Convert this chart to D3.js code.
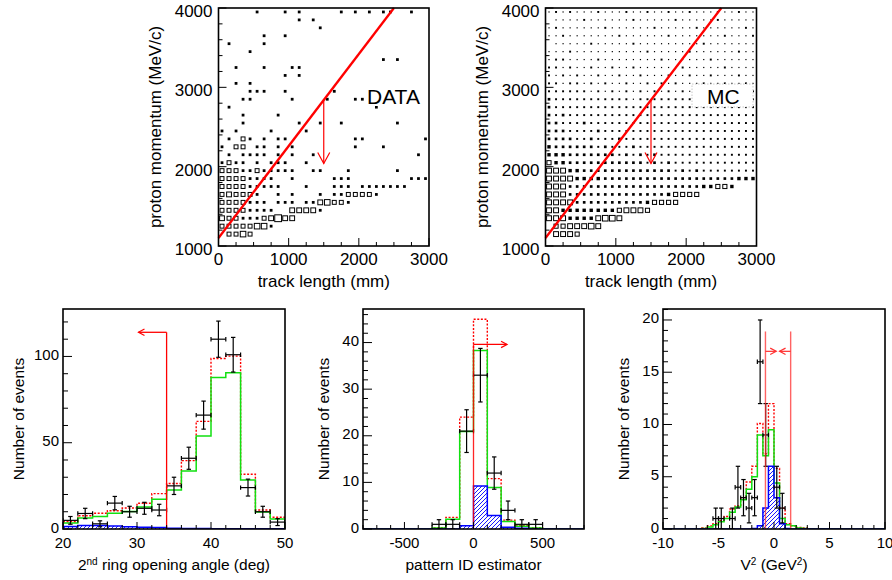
<!DOCTYPE html>
<html><head><meta charset="utf-8">
<script src="https://cdn.jsdelivr.net/npm/d3@7"></script>
<style>
body{margin:0;background:#fff}
text{font-family:"Liberation Sans",Arial,Helvetica,sans-serif;fill:#000}
</style>
</head><body><script>
// ---------------- DATA ----------------
// Top panels: 2D histograms, 30 x 30 cells of 100 mm x 100 MeV/c
const trackRange = [0, 3000];
const momRange = [1000, 4000];
const cellSize = 100;
const topXTicks = [0, 1000, 2000, 3000];
const topYTicks = [1000, 2000, 3000, 4000];
// rows from top (3900-4000 MeV/c) to bottom (1000-1100 MeV/c), one digit per 100 mm column
const dataRows = [
 "00000 10001 01000 00101 01011 00100",
 "00000 00000 01010 00000 00000 00000",
 "00000 00000 00001 00000 00000 00000",
 "00000 01001 00000 00000 00000 00000",
 "01000 01000 00000 00000 00000 00000",
 "00001 00000 00000 00000 00000 00000",
 "00000 00000 00000 00000 00010 10000",
 "00100 01000 11000 00000 00000 00000",
 "00000 00001 01000 00000 00000 00000",
 "00101 00000 00000 00000 00000 00000",
 "00001 11001 00000 01000 00000 00000",
 "00011 00000 10000 10001 10000 00000",
 "01000 00000 00000 00000 00100 00000",
 "00010 00010 00000 00000 00000 00000",
 "00010 00000 01001 00100 00000 10000",
 "10100 00100 00100 00000 00000 00000",
 "01021 01011 00000 00001 10000 00001",
 "10220 11010 10000 00001 00010 00000",
 "01011 11010 10010 00000 00000 00010",
 "12110 10111 00100 00000 00000 00000",
 "22211 21111 10011 00010 00000 10000",
 "22221 11100 10000 01110 00000 00111",
 "22221 11110 00100 01110 11111 11000",
 "23222 10010 10001 01122 22100 00000",
 "22221 11011 10113 42210 00000 00000",
 "22221 11100 33331 00000 00000 00000",
 "32211 12363 30000 00000 00000 00000",
 "22222 44100 00000 00000 00000 00000",
 "02242 00000 00000 00000 00000 00000",
 "00000 00000 00000 00000 00000 00000"
];
const mcRows = [
 "12121 11211 12112 11211 21112 11211",
 "01111 21111 11211 11121 11112 11111",
 "12111 11121 11111 21111 12111 11121",
 "11211 11111 21111 11211 11111 21112",
 "01111 12111 11211 11111 11211 11111",
 "11121 11111 11112 11111 21111 11211",
 "12211 11211 11111 12111 11121 11111",
 "22121 12112 11211 11112 11111 21111",
 "21212 11211 21121 11211 21121 11211",
 "22122 12121 12112 12121 11211 21121",
 "22222 21212 12121 21212 12121 21212",
 "32222 22222 22122 22222 21222 22122",
 "32222 22222 22222 22222 22222 22222",
 "32322 22222 22222 22222 22222 22222",
 "33222 32222 22222 22222 22222 22222",
 "33322 22322 22222 22222 22222 22222",
 "33332 23222 32222 22222 22222 22222",
 "43333 33232 22322 22222 22222 22222",
 "44433 33333 23232 32222 22222 22222",
 "54433 33333 33332 32322 22222 22222",
 "66644 33333 33333 33323 23222 22222",
 "66664 44433 33333 33333 33333 33444",
 "66633 33333 33333 33333 33445 54000",
 "66633 33333 33333 33455 55000 00000",
 "66663 33333 33334 55550 00000 00000",
 "66444 44444 56665 00000 00000 00000",
 "66644 44677 60000 00000 00000 00000",
 "05566 67600 00000 00000 00000 00000",
 "06665 00000 00000 00000 00000 00000",
 "00000 00000 00000 00000 00000 00000"
];
const cutLineTrack = [0, 2500];
const cutLineMom = [1100, 4000];
const cutArrowTrack = 1500;
const cutArrowMom = [2840, 2040];

// Bottom-left: 2nd ring opening angle (deg), bins of 2 deg from 20
const angStart = 20, angWidth = 2;
const angData  = [5, 9, 3, 15, 10, 12, 11, 25, 41, 66, 110, 101, 24, 10, 4];
const angMCtot = [4.2, 7.7, 9.1, 10.6, 12.2, 14.9, 20.5, 26.4, 39.6, 62.4, 98.8, 100.2, 31.7, 11, 6.8];
const angMCsig = [3.5, 6.4, 7.3, 9.1, 10.2, 12.7, 17.2, 22.6, 33.6, 53.9, 87.8, 90.5, 28.4, 9.8, 5.8];
const angMCbkg = [1.5, 2, 2, 1.8, 1.3, 1, 0.9, 0.4, 0.3, 0.3, 0.2, 0.2, 0.2, 0.2, 0.2];
const angCut = {x: 34, top: 114, arrowTo: 30.2};

// Bottom-middle: pattern ID estimator, bins of 100 from -800
const pidStart = -800, pidWidth = 100;
const pidData  = [0, 0, 0, 0, 0, 1, 1, 21, 33, 12, 4, 1, 1, 0, 0, 0];
const pidMCtot = [0, 0, 0, 0, 0, 0.3, 2.5, 24, 45, 10.8, 1.9, 0.7, 0.3, 0, 0, 0];
const pidMCsig = [0, 0, 0, 0, 0, 0.2, 2.1, 20.9, 38.3, 8.9, 1.6, 0.6, 0.2, 0, 0, 0];
const pidMCbkg = [0, 0, 0, 0, 0, 0, 0, 0.7, 9.2, 2.9, 0.4, 0.15, 0, 0, 0, 0];
const pidCut = {x: 0, top: 39.6, arrowTo: 243};

// Bottom-right: V^2 (GeV^2), bins of 0.5 from -10
const v2Start = -10, v2Width = 0.5;
const v2Data  = [0,0,0,0,0,0,0,0,0,1, 1,0,1,4,3,2,3,16,9,0, 4,2,0,0,0,0,0,0,0,0, 0,0,0,0,0,0,0,0,0,0];
const v2MCtot = [0,0,0,0,0,0,0,0.1,0.3,0.5, 0.8,1.2,1.9,2.2,3.0,4.5,6.0,10.1,7.2,12, 5.8,2.0,0.5,0.3,0.15,0.1,0,0,0,0, 0,0,0,0,0,0,0,0,0,0];
const v2MCsig = [0,0,0,0,0,0,0,0.05,0.2,0.4, 0.7,1.0,1.6,2.1,2.8,3.8,5.0,9.0,7.0,9.5, 4.4,1.0,0.4,0.3,0.1,0.05,0,0,0,0, 0,0,0,0,0,0,0,0,0,0];
const v2MCbkg = [0,0,0,0,0,0,0,0,0,0, 0,0,0,0,0,0,0.05,0.3,2.0,6.0, 3.0,0.5,0.05,0,0,0,0,0,0,0, 0,0,0,0,0,0,0,0,0,0];
const v2Cuts = {lo: -0.77, hi: 1.5, top: 18.9, arrowY: 17, loTo: 0.2, hiTo: 0.5};

// ---------------- DRAWING ----------------
const svg = d3.select("body").append("svg").attr("width", 892).attr("height", 580);
const defs = svg.append("defs");
const pat = defs.append("pattern").attr("id", "hatch").attr("patternUnits", "userSpaceOnUse")
  .attr("width", 4).attr("height", 4);
pat.append("path").attr("d", "M-1,1 l2,-2 M0,4 l4,-4 M3,5 l2,-2")
  .attr("stroke", "#0000ff").attr("stroke-width", 0.9);

const RED = "#ff0000", GREEN = "#11e011", BLUE = "#0000ff";

function line(g, x1, y1, x2, y2, stroke, w) {
  return g.append("line").attr("x1", x1).attr("y1", y1).attr("x2", x2).attr("y2", y2)
    .attr("stroke", stroke).attr("stroke-width", w);
}

function isMult(v, step) { const r = v / step; return Math.abs(r - Math.round(r)) < 1e-6; }

function drawAxes(g, x, y, o) {
  const [xa, xb] = x.range(), [yb, ya] = y.range();
  const xd = x.domain(), yd = y.domain();
  d3.range(Math.ceil(xd[0] / o.xMinor - 1e-9) * o.xMinor, xd[1] + 1e-9, o.xMinor).forEach(v => {
    const len = isMult(v, o.xMajor) ? o.tMajX : o.tMinX;
    line(g, x(v), yb, x(v), yb - len, "#000", 1);
  });
  d3.range(Math.ceil(yd[0] / o.yMinor - 1e-9) * o.yMinor, yd[1] + 1e-9, o.yMinor).forEach(v => {
    const len = isMult(v, o.yMajor) ? o.tMajY : o.tMinY;
    line(g, xa, y(v), xa + len, y(v), "#000", 1);
  });
  g.append("rect").attr("x", xa).attr("y", ya).attr("width", xb - xa).attr("height", yb - ya)
    .attr("fill", "none").attr("stroke", "#000").attr("stroke-width", 1.6);
  g.selectAll("text.xl").data(o.xLabels).join("text").attr("class", "xl")
    .attr("x", d => x(d)).attr("y", o.xLabY).attr("text-anchor", "middle")
    .attr("font-size", o.fs).text(d => d);
  g.selectAll("text.yl").data(o.yLabels).join("text").attr("class", "yl")
    .attr("x", xa - o.yLabGap).attr("y", d => y(d) + o.yLabDy).attr("text-anchor", "end")
    .attr("font-size", o.fs).text(d => d);
}

function rotTitle(g, cx, cy, txt, fs) {
  g.append("text").attr("transform", `translate(${cx},${cy}) rotate(-90)`)
    .attr("text-anchor", "middle").attr("dy", "0.35em").attr("font-size", fs).text(txt);
}

// ---- Top panels ----
function topPanel(x0, x1, rows, sizeScale, solidBelow, label, box) {
  const x = d3.scaleLinear().domain(trackRange).range([x0, x1]);
  const y = d3.scaleLinear().domain(momRange).range([246, 8]);
  const g = svg.append("g");
  const cells = [];
  rows.forEach((r, ri) => {
    const s = r.replace(/ /g, "");
    const j = rows.length - 1 - ri;
    for (let i = 0; i < s.length; i++) {
      const c = +s[i];
      if (c > 0) cells.push({t: trackRange[0] + (i + 0.5) * cellSize, p: momRange[0] + (j + 0.5) * cellSize, c});
    }
  });
  g.selectAll("rect.cell").data(cells).join("rect").attr("class", "cell")
    .attr("x", d => x(d.t) - sizeScale(d.c) / 2).attr("y", d => y(d.p) - sizeScale(d.c) / 2)
    .attr("width", d => sizeScale(d.c)).attr("height", d => sizeScale(d.c))
    .attr("fill", d => sizeScale(d.c) < solidBelow ? "#000" : "#fff")
    .attr("stroke", d => sizeScale(d.c) < solidBelow ? "none" : "#000")
    .attr("stroke-width", 1);
  // label box
  g.append("rect").attr("x", box.x).attr("y", box.y).attr("width", box.w).attr("height", box.h)
    .attr("fill", "#fff").attr("stroke", box.border ? "#bbb" : "none")
    .attr("stroke-dasharray", "1.5,1.5").attr("stroke-width", 0.8);
  g.append("text").attr("x", box.tx).attr("y", 103.5).attr("font-size", 21).text(label);
  // cut line
  g.append("path").attr("d", d3.line().x(d => x(d[0])).y(d => y(d[1]))(cutLineTrack.map((t, k) => [t, cutLineMom[k]])))
    .attr("stroke", RED).attr("stroke-width", 2.3).attr("fill", "none");
  const ax = x(cutArrowTrack), ay0 = y(cutArrowMom[0]), ay1 = y(cutArrowMom[1]);
  line(g, ax, ay0, ax, ay1, RED, 1.2);
  g.append("path").attr("d", `M${ax - 6},${ay1 - 11}L${ax},${ay1}L${ax + 6},${ay1 - 11}`)
    .attr("fill", "none").attr("stroke", RED).attr("stroke-width", 1.2);
  drawAxes(g, x, y, {xMinor: 250, xMajor: 1000, yMinor: 200, yMajor: 1000,
    tMajX: 8, tMinX: 4, tMajY: 8, tMinY: 4, xLabels: topXTicks, yLabels: topYTicks,
    xLabY: 265, yLabGap: 6, yLabDy: 9, fs: 17});
  g.append("text").attr("x", (x0 + x1) / 2).attr("y", 287).attr("text-anchor", "middle")
    .attr("font-size", 17).text("track length (mm)");
  rotTitle(g, x0 - 63.5, 127, "proton momentum (MeV/c)", 17);
}
topPanel(218.5, 429, dataRows, d3.scaleSqrt().domain([0, 6]).range([0, 6.8]), 3.3, "DATA",
  {x: 366, y: 83, w: 62, h: 23, tx: 367, border: false});
topPanel(545.5, 756.5, mcRows, d3.scaleLinear().domain([1, 7]).range([1.2, 5.6]), 3.6, "MC",
  {x: 692, y: 84, w: 61, h: 23, tx: 707, border: true});

// ---- Bottom panels ----
function histPanel(c) {
  const x = d3.scaleLinear().domain(c.xDomain).range([c.x0, c.x1]);
  const y = d3.scaleLinear().domain(c.yDomain).range([529, 309]);
  const g = svg.append("g");
  const clipId = "clip" + c.id;
  defs.append("clipPath").attr("id", clipId).append("rect")
    .attr("x", c.x0).attr("y", 309).attr("width", c.x1 - c.x0).attr("height", 220);
  const gh = g.append("g").attr("clip-path", `url(#${clipId})`);
  const step = vals => {
    const pts = [[c.start, 0]];
    vals.forEach((v, k) => { const a = c.start + k * c.width; pts.push([a, v], [a + c.width, v]); });
    pts.push([c.start + vals.length * c.width, 0]);
    return d3.line().x(d => x(d[0])).y(d => y(d[1]))(pts);
  };
  gh.append("path").attr("d", step(c.tot)).attr("fill", "none").attr("stroke", RED)
    .attr("stroke-width", 1.4).attr("stroke-dasharray", "2,1.6");
  gh.append("path").attr("d", step(c.sig)).attr("fill", "none").attr("stroke", GREEN).attr("stroke-width", 1.5);
  gh.append("path").attr("d", step(c.bkg)).attr("fill", "url(#hatch)").attr("stroke", BLUE).attr("stroke-width", 1.5);
  // data crosses
  const pts = c.data.map((v, k) => ({v, a: c.start + k * c.width, b: c.start + (k + 1) * c.width})).filter(d => d.v > 0);
  pts.forEach(d => {
    const yc = y(d.v), ylo = y(d.v - Math.sqrt(d.v)), yhi = y(d.v + Math.sqrt(d.v));
    const xa = x(d.a), xb = x(d.b), xm = (xa + xb) / 2;
    line(gh, xa, yc, xb, yc, "#000", 1.2);
    line(gh, xm, ylo, xm, yhi, "#000", 1.2);
    line(gh, xm - 2.2, ylo, xm + 2.2, ylo, "#000", 1.2);
    line(gh, xm - 2.2, yhi, xm + 2.2, yhi, "#000", 1.2);
    line(gh, xa, yc - 2.2, xa, yc + 2.2, "#000", 1.2);
    line(gh, xb, yc - 2.2, xb, yc + 2.2, "#000", 1.2);
  });
  c.cuts(g, x, y);
  drawAxes(g, x, y, {xMinor: c.xMinor, xMajor: c.xMajor, yMinor: c.yMinor, yMajor: c.yMajor,
    tMajX: 7, tMinX: 4, tMajY: 9, tMinY: 5, xLabels: c.xLabels, yLabels: c.yLabels,
    xLabY: 548, yLabGap: 4, yLabDy: 3.5, fs: 15});
  rotTitle(g, c.yTitleX, 419, "Number of events", 15.5);
  const t = g.append("text").attr("x", (c.x0 + c.x1) / 2).attr("y", 570).attr("text-anchor", "middle").attr("font-size", 15.5);
  c.xTitle.forEach(p => {
    const s = t.append("tspan").text(p.t);
    if (p.sup) s.attr("font-size", 10).attr("baseline-shift", "super");
  });
}

function arrowHead(g, tx, ty, dir, color) {
  g.append("path").attr("d", `M${tx - dir * 6},${ty - 3.2}L${tx},${ty}L${tx - dir * 6},${ty + 3.2}`)
    .attr("fill", "none").attr("stroke", color).attr("stroke-width", 1.2);
}

histPanel({id: 1, x0: 63, x1: 285, xDomain: [20, 50], yDomain: [0, 127.5],
  start: angStart, width: angWidth, data: angData, tot: angMCtot, sig: angMCsig, bkg: angMCbkg,
  xMinor: 2, xMajor: 10, yMinor: 10, yMajor: 50, xLabels: [20, 30, 40, 50], yLabels: [0, 50, 100],
  yTitleX: 18.5,
  xTitle: [{t: "2"}, {t: "nd", sup: true}, {t: " ring opening angle (deg)"}],
  cuts: (g, x, y) => {
    line(g, x(angCut.x), y(0), x(angCut.x), y(angCut.top), RED, 1.3);
    line(g, x(angCut.x), y(angCut.top), x(angCut.arrowTo), y(angCut.top), RED, 1.3);
    arrowHead(g, x(angCut.arrowTo), y(angCut.top), -1, RED);
  }});

histPanel({id: 2, x0: 363, x1: 584, xDomain: [-800, 800], yDomain: [0, 47.2],
  start: pidStart, width: pidWidth, data: pidData, tot: pidMCtot, sig: pidMCsig, bkg: pidMCbkg,
  xMinor: 100, xMajor: 500, yMinor: 2, yMajor: 10, xLabels: [-500, 0, 500], yLabels: [0, 10, 20, 30, 40],
  yTitleX: 324,
  xTitle: [{t: "pattern ID estimator"}],
  cuts: (g, x, y) => {
    line(g, x(pidCut.x), y(0), x(pidCut.x), y(pidCut.top), RED, 1.3).attr("opacity", 0.85);
    line(g, x(pidCut.x), y(pidCut.top), x(pidCut.arrowTo), y(pidCut.top), RED, 1.3);
    arrowHead(g, x(pidCut.arrowTo), y(pidCut.top), 1, RED);
  }});

histPanel({id: 3, x0: 663, x1: 885, xDomain: [-10, 10], yDomain: [0, 21.05],
  start: v2Start, width: v2Width, data: v2Data, tot: v2MCtot, sig: v2MCsig, bkg: v2MCbkg,
  xMinor: 1, xMajor: 5, yMinor: 1, yMajor: 5, xLabels: [-10, -5, 0, 5, 10], yLabels: [0, 5, 10, 15, 20],
  yTitleX: 624,
  xTitle: [{t: "V"}, {t: "2", sup: true}, {t: " (GeV"}, {t: "2", sup: true}, {t: ")"}],
  cuts: (g, x, y) => {
    const col = "#ff3030";
    line(g, x(v2Cuts.lo), y(0), x(v2Cuts.lo), y(v2Cuts.top), col, 1.4).attr("opacity", 0.75);
    line(g, x(v2Cuts.hi), y(0), x(v2Cuts.hi), y(v2Cuts.top), col, 1.4).attr("opacity", 0.75);
    line(g, x(v2Cuts.lo), y(v2Cuts.arrowY), x(v2Cuts.loTo), y(v2Cuts.arrowY), col, 1.2);
    line(g, x(v2Cuts.hi), y(v2Cuts.arrowY), x(v2Cuts.hiTo), y(v2Cuts.arrowY), col, 1.2);
    arrowHead(g, x(v2Cuts.loTo), y(v2Cuts.arrowY), 1, col);
    arrowHead(g, x(v2Cuts.hiTo), y(v2Cuts.arrowY), -1, col);
  }});
</script></body></html>
